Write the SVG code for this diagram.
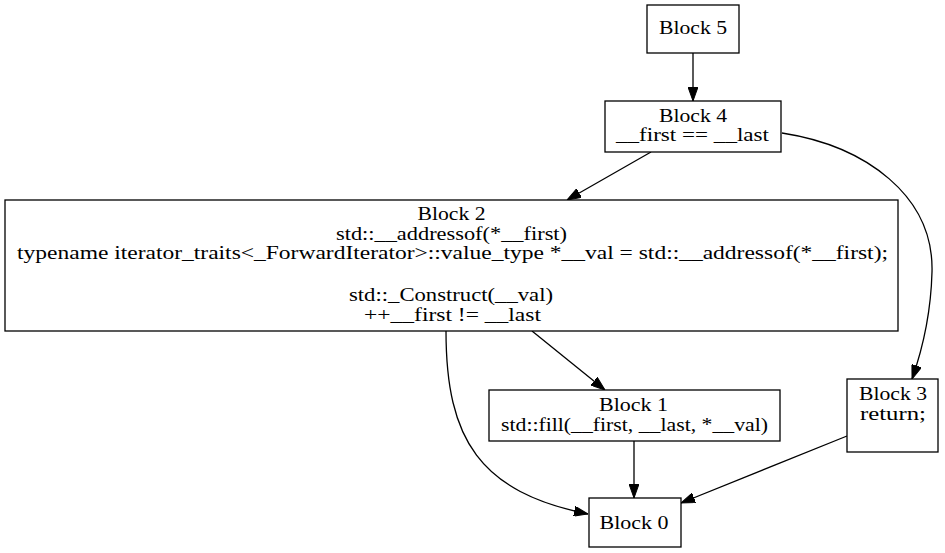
<svg xmlns="http://www.w3.org/2000/svg" width="945" height="553" viewBox="0 0 945 553">
<style>
.box{fill:#fff;stroke:#000;stroke-width:1.3}
.t{font-family:"Liberation Serif","Times New Roman",serif;font-size:18px;fill:#000;text-anchor:middle}
.e{fill:none;stroke:#000;stroke-width:1.3;marker-end:url(#ah)}
</style>
<defs>
<marker id="ah" markerUnits="userSpaceOnUse" markerWidth="14" markerHeight="10" refX="14" refY="5" orient="auto" viewBox="0 0 14 10">
<path d="M0,0 L14,5 L0,10 z" fill="#000" stroke="#000" stroke-width="1"/>
</marker>
</defs>
<rect width="945" height="553" fill="#fff"/>
<g id="edges">
<path class="e" d="M693,53 L693,101"/>
<path class="e" d="M651,152 L567,200"/>
<path class="e" d="M782,133 C866,146 934,196 932,272 C931,310 924,345 912,379"/>
<path class="e" d="M532,331 L605,390"/>
<path class="e" d="M446,331 C446,440 480,492 588,514"/>
<path class="e" d="M634,441 L634,498"/>
<path class="e" d="M847,436 L681,503"/>
</g>
<g id="block5">
<rect class="box" x="647" y="5" width="92" height="48"/>
<text class="t" x="693" y="34" textLength="68" lengthAdjust="spacingAndGlyphs">Block 5</text>
</g>
<g id="block4">
<rect class="box" x="605" y="101" width="176" height="51"/>
<text class="t" x="693" y="122" textLength="68" lengthAdjust="spacingAndGlyphs">Block 4</text>
<text class="t" x="692.5" y="141" textLength="153" lengthAdjust="spacingAndGlyphs">__first == __last</text>
</g>
<g id="block2">
<rect class="box" x="5" y="200" width="893" height="131"/>
<text class="t" x="451.5" y="220" textLength="68" lengthAdjust="spacingAndGlyphs">Block 2</text>
<text class="t" x="451.5" y="240" textLength="231" lengthAdjust="spacingAndGlyphs">std::__addressof(*__first)</text>
<text class="t" x="452.5" y="259" textLength="871" lengthAdjust="spacingAndGlyphs">typename iterator_traits&lt;_ForwardIterator&gt;::value_type *__val = std::__addressof(*__first);</text>
<text class="t" x="451" y="301" textLength="204" lengthAdjust="spacingAndGlyphs">std::_Construct(__val)</text>
<text class="t" x="452.5" y="321" textLength="177" lengthAdjust="spacingAndGlyphs">++__first != __last</text>
</g>
<g id="block1">
<rect class="box" x="489" y="390" width="291" height="51"/>
<text class="t" x="633.5" y="411" textLength="69" lengthAdjust="spacingAndGlyphs">Block 1</text>
<text class="t" x="634.5" y="431" textLength="267" lengthAdjust="spacingAndGlyphs">std::fill(__first, __last, *__val)</text>
</g>
<g id="block3">
<rect class="box" x="847" y="379" width="91" height="73"/>
<text class="t" x="893" y="400" textLength="68" lengthAdjust="spacingAndGlyphs">Block 3</text>
<text class="t" x="893" y="420" textLength="66" lengthAdjust="spacingAndGlyphs">return;</text>
</g>
<g id="block0">
<rect class="box" x="589" y="498" width="92" height="49"/>
<text class="t" x="634" y="529" textLength="69" lengthAdjust="spacingAndGlyphs">Block 0</text>
</g>
</svg>
